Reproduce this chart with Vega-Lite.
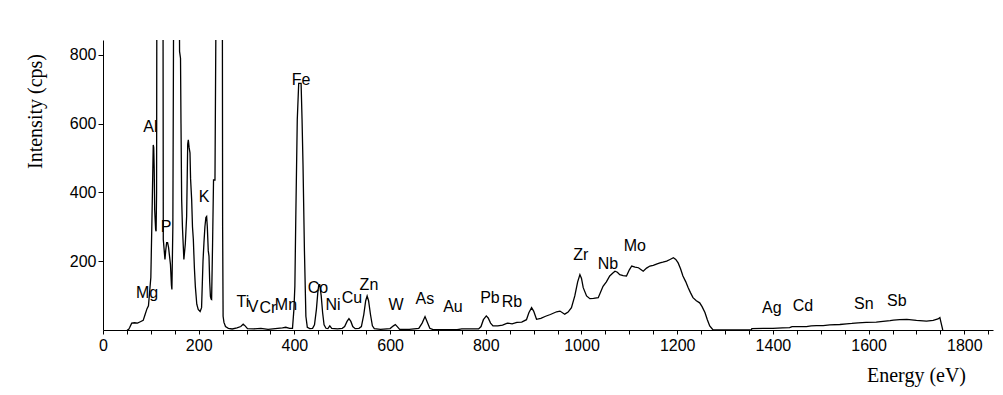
{
  "$schema": "https://vega.github.io/schema/vega-lite/v6.json",
  "width": 890,
  "height": 290,
  "autosize": {"type": "none"},
  "padding": {"left": 103, "top": 40, "right": 10, "bottom": 65},
  "background": "white",
  "config": {
    "view": {"stroke": null},
    "axis": {"domainColor": "black", "tickColor": "black", "labelColor": "black", "titleColor": "black", "grid": false, "labelFont": "Liberation Sans", "labelFontSize": 16, "titleFont": "Liberation Serif", "titleFontSize": 20, "titleFontWeight": "normal"}
  },
  "datasets": {
    "spec": [
      {"e":50,"c":0},{"e":53,"c":0},{"e":56,"c":8},{"e":60,"c":20},{"e":66,"c":21},{"e":72,"c":20},{"e":78,"c":24},{"e":84,"c":28},{"e":88,"c":45},{"e":92,"c":62},{"e":95,"c":70},{"e":98,"c":120},{"e":100,"c":153},{"e":102,"c":300},{"e":103,"c":374},{"e":105,"c":538},{"e":106,"c":530},{"e":107,"c":470},{"e":108,"c":350},{"e":109,"c":320},{"e":110,"c":292},{"e":111,"c":287},{"e":112,"c":400},{"e":113,"c":1500},{"e":125,"c":1500},{"e":126,"c":263},{"e":128,"c":230},{"e":129.5,"c":205},{"e":131,"c":230},{"e":133,"c":254},{"e":135,"c":254},{"e":137,"c":240},{"e":139,"c":215},{"e":141,"c":190},{"e":143,"c":130},{"e":144,"c":118},{"e":146,"c":300},{"e":149,"c":1500},{"e":158,"c":1500},{"e":160,"c":810},{"e":162,"c":790},{"e":163,"c":600},{"e":164.4,"c":379},{"e":166,"c":300},{"e":169,"c":205},{"e":172,"c":250},{"e":174.8,"c":330},{"e":177,"c":540},{"e":178.3,"c":553},{"e":180,"c":530},{"e":181.8,"c":515},{"e":183,"c":440},{"e":185.3,"c":379},{"e":187,"c":300},{"e":188.8,"c":263},{"e":191,"c":180},{"e":193,"c":126},{"e":196,"c":75},{"e":199,"c":60},{"e":203,"c":54},{"e":206,"c":65},{"e":209,"c":200},{"e":211,"c":254},{"e":213,"c":300},{"e":215,"c":327},{"e":216.6,"c":330},{"e":218,"c":300},{"e":220,"c":230},{"e":221.5,"c":215},{"e":223,"c":140},{"e":224.5,"c":98},{"e":226,"c":90},{"e":227,"c":89},{"e":229,"c":250},{"e":231,"c":436},{"e":234,"c":436},{"e":236,"c":900},{"e":237.5,"c":1500},{"e":249,"c":1500},{"e":250,"c":300},{"e":251,"c":40},{"e":252.8,"c":22},{"e":256,"c":10},{"e":262,"c":5},{"e":270,"c":3},{"e":280,"c":6},{"e":288,"c":10},{"e":293,"c":17},{"e":297,"c":12},{"e":302,"c":4},{"e":315,"c":3},{"e":330,"c":5},{"e":345,"c":2},{"e":360,"c":4},{"e":375,"c":6},{"e":382,"c":8},{"e":390,"c":5},{"e":396,"c":5},{"e":399,"c":60},{"e":401,"c":128},{"e":403,"c":335},{"e":406,"c":611},{"e":409,"c":717},{"e":414,"c":717},{"e":416,"c":611},{"e":418,"c":480},{"e":421,"c":229},{"e":424,"c":40},{"e":427,"c":8},{"e":432,"c":4},{"e":438,"c":5},{"e":442,"c":15},{"e":446,"c":60},{"e":449,"c":110},{"e":451,"c":132},{"e":453,"c":132},{"e":456,"c":100},{"e":459,"c":50},{"e":462,"c":15},{"e":466,"c":5},{"e":470,"c":4},{"e":474,"c":12},{"e":478,"c":5},{"e":490,"c":3},{"e":500,"c":5},{"e":505,"c":10},{"e":510,"c":25},{"e":514,"c":33},{"e":518,"c":25},{"e":522,"c":10},{"e":527,"c":4},{"e":535,"c":5},{"e":540,"c":10},{"e":545,"c":45},{"e":549,"c":85},{"e":552,"c":99},{"e":555,"c":85},{"e":559,"c":45},{"e":563,"c":12},{"e":567,"c":4},{"e":580,"c":2},{"e":600,"c":4},{"e":607,"c":12},{"e":611,"c":16},{"e":615,"c":10},{"e":620,"c":2},{"e":640,"c":2},{"e":660,"c":5},{"e":667,"c":20},{"e":673,"c":39},{"e":678,"c":22},{"e":683,"c":5},{"e":690,"c":1},{"e":700,"c":1},{"e":740,"c":1},{"e":750,"c":3},{"e":785,"c":3},{"e":790,"c":10},{"e":795,"c":30},{"e":801,"c":41},{"e":805,"c":35},{"e":810,"c":20},{"e":815,"c":12},{"e":825,"c":12},{"e":835,"c":14},{"e":845,"c":20},{"e":855,"c":18},{"e":865,"c":22},{"e":875,"c":23},{"e":885,"c":30},{"e":890,"c":50},{"e":895.7,"c":65},{"e":900,"c":55},{"e":906,"c":31},{"e":915,"c":34},{"e":925,"c":40},{"e":935,"c":45},{"e":948,"c":53},{"e":955,"c":55},{"e":965,"c":46},{"e":972,"c":52},{"e":979,"c":65},{"e":986,"c":99},{"e":992,"c":140},{"e":996.7,"c":161},{"e":1000,"c":150},{"e":1003.6,"c":123},{"e":1010.6,"c":99},{"e":1017.5,"c":91},{"e":1025,"c":92},{"e":1035,"c":94},{"e":1045,"c":127},{"e":1052,"c":140},{"e":1059,"c":157},{"e":1065,"c":165},{"e":1070,"c":171},{"e":1075,"c":168},{"e":1080,"c":161},{"e":1087,"c":158},{"e":1094,"c":157},{"e":1100,"c":175},{"e":1105,"c":186},{"e":1112,"c":183},{"e":1119,"c":181},{"e":1124,"c":176},{"e":1129,"c":171},{"e":1136,"c":180},{"e":1143,"c":186},{"e":1150,"c":188},{"e":1158,"c":192},{"e":1164,"c":195},{"e":1170,"c":197},{"e":1178,"c":200},{"e":1185,"c":205},{"e":1192,"c":210},{"e":1197,"c":205},{"e":1202,"c":195},{"e":1207,"c":178},{"e":1212,"c":157},{"e":1218,"c":140},{"e":1223,"c":123},{"e":1228,"c":108},{"e":1233,"c":94},{"e":1240,"c":85},{"e":1247,"c":79},{"e":1252,"c":68},{"e":1258,"c":51},{"e":1263,"c":30},{"e":1268,"c":12},{"e":1275,"c":0},{"e":1355,"c":0},{"e":1356,"c":4},{"e":1380,"c":5},{"e":1400,"c":5},{"e":1420,"c":6},{"e":1435,"c":7},{"e":1440,"c":10},{"e":1470,"c":10},{"e":1480,"c":12},{"e":1491,"c":13},{"e":1505,"c":13},{"e":1519,"c":15},{"e":1540,"c":16},{"e":1554,"c":18},{"e":1565,"c":19},{"e":1578,"c":21},{"e":1595,"c":22},{"e":1616,"c":23},{"e":1630,"c":25},{"e":1645,"c":27},{"e":1652,"c":29},{"e":1665,"c":30},{"e":1680,"c":31},{"e":1700,"c":28},{"e":1721,"c":26},{"e":1735,"c":28},{"e":1745,"c":32},{"e":1749,"c":36},{"e":1752,"c":18},{"e":1755,"c":0}
    ],
    "labels": [
      {"el":"Mg","e":92,"c":109},{"el":"Al","e":99,"c":590},{"el":"P","e":131.6,"c":300},{"el":"K","e":211,"c":387},
      {"el":"Ti","e":292.5,"c":80},{"el":"V","e":313.4,"c":66},{"el":"Cr","e":344.8,"c":63},{"el":"Mn","e":382.4,"c":72},
      {"el":"Fe","e":413.8,"c":727},{"el":"Co","e":449.2,"c":121},{"el":"Ni","e":480.6,"c":74},{"el":"Cu","e":520.3,"c":92},
      {"el":"Zn","e":555.8,"c":132},{"el":"W","e":612.2,"c":72},{"el":"As","e":672.8,"c":89},{"el":"Au","e":731.3,"c":66},
      {"el":"Pb","e":808.6,"c":92},{"el":"Rb","e":854.6,"c":80},{"el":"Zr","e":998.7,"c":219},{"el":"Nb","e":1055.2,"c":193},
      {"el":"Mo","e":1111.6,"c":243},{"el":"Ag","e":1397.8,"c":63},{"el":"Cd","e":1462.6,"c":69},{"el":"Sn","e":1590,"c":77},
      {"el":"Sb","e":1659,"c":83}
    ]
  },
  "encoding": {
    "x": {"field": "e", "type": "quantitative", "scale": {"domain": [0, 1860], "nice": false, "zero": false},
      "axis": {"title": "Energy (eV)", "values": [0,50,100,150,200,250,300,350,400,450,500,550,600,650,700,750,800,850,900,950,1000,1050,1100,1150,1200,1250,1300,1350,1400,1450,1500,1550,1600,1650,1700,1750,1800,1850],
        "labelExpr": "datum.value % 200 === 0 ? datum.label : ''", "format": "d", "tickSize": 4, "labelPadding": 3, "labelFlush": false, "labelOverlap": false,
        "titleX": 813, "titleY": 45, "titleAlign": "center", "titleBaseline": "middle"}},
    "y": {"field": "c", "type": "quantitative", "scale": {"domain": [0, 843], "nice": false},
      "axis": {"title": "Intensity (cps)", "values": [200, 400, 600, 800], "tickSize": 5, "labelPadding": 2, "labelFlush": false,
        "titleX": -68, "titleY": 71, "titleAngle": -90, "titleAlign": "center", "titleBaseline": "middle"}}
  },
  "layer": [
    {"data": {"name": "spec"}, "mark": {"type": "line", "color": "black", "strokeWidth": 1.3, "clip": true}},
    {"data": {"name": "labels"}, "mark": {"type": "text", "font": "Liberation Sans", "fontSize": 16, "color": "black", "align": "center", "baseline": "middle"},
      "encoding": {"text": {"field": "el"}}}
  ]
}
